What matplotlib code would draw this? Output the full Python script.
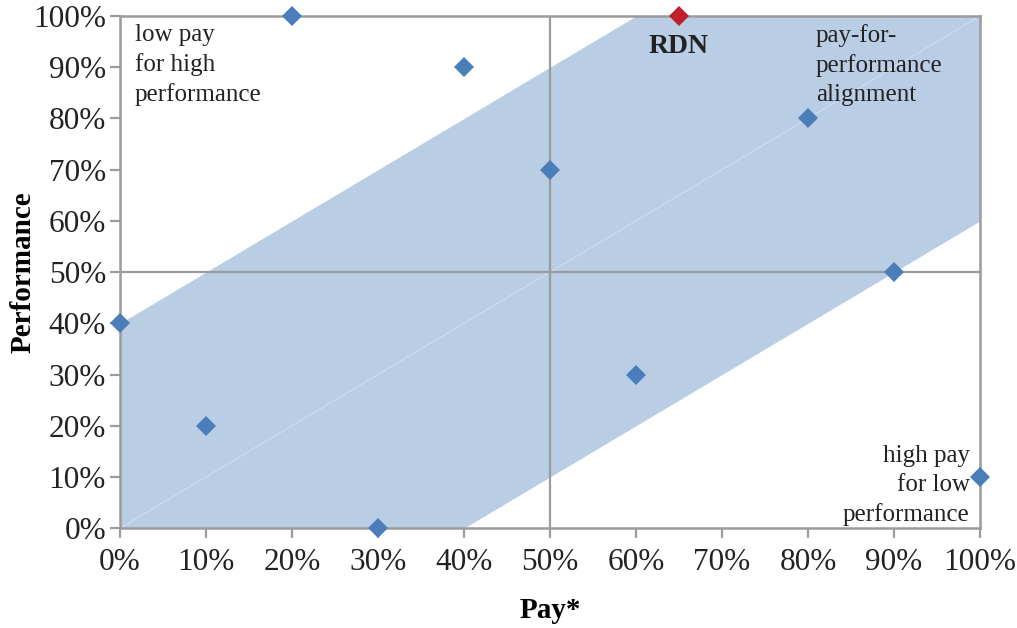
import matplotlib.pyplot as plt
import numpy as np
from matplotlib.ticker import PercentFormatter

pay = [0, 10, 20, 30, 40, 50, 60, 80, 90, 100]
performance = [40, 20, 100, 0, 90, 70, 30, 80, 50, 10]
rdn_pay = [65]
rdn_performance = [100]
band_half_width = 40
ticks = list(range(0, 101, 10))

plt.rcParams['font.family'] = ['Liberation Serif', 'DejaVu Serif']
grey = '#9b9b9b'

fig = plt.figure(figsize=(10.17, 6.28), dpi=100)
ax = fig.add_axes([0.118, 0.159, 0.8456, 0.8155])

# pay-for-performance band
xs = np.linspace(0, 100, 201)
ax.fill_between(xs, np.clip(xs - band_half_width, 0, 100), np.clip(xs + band_half_width, 0, 100),
                color='#b9cde5', lw=0, zorder=1)
ax.plot([0, 100], [0, 100], color='white', lw=0.6, alpha=0.4, zorder=2)

ax.axvline(50, color=grey, lw=1.6, zorder=2)
ax.axhline(50, color=grey, lw=1.6, zorder=2)

ax.plot(pay, performance, 'D', color='#4a7ebb', ms=10.5, mew=0, clip_on=False, zorder=5)
ax.plot(rdn_pay, rdn_performance, 'D', color='#c0202a', ms=10.5, mew=0, clip_on=False, zorder=5)

ax.set_xlim(0, 100)
ax.set_ylim(0, 100)
ax.set_xticks(ticks)
ax.set_yticks(ticks)
ax.xaxis.set_major_formatter(PercentFormatter(decimals=0))
ax.yaxis.set_major_formatter(PercentFormatter(decimals=0))
ax.tick_params(direction='out', length=7, width=1.6, color=grey, labelsize=22.5,
               labelcolor='#222222')
ax.tick_params(axis='x', pad=7)
ax.tick_params(axis='y', pad=3)
for s in ax.spines.values():
    s.set_color(grey)
    s.set_linewidth(1.8)

ax.set_xlabel('Pay*', fontsize=21, fontweight='bold')
ax.set_ylabel('Performance', fontsize=21, fontweight='bold')
ax.xaxis.set_label_coords(0.5, -0.135)
ax.yaxis.set_label_coords(-0.097, 0.5)

txt = dict(fontsize=18, color='#222222', linespacing=1.4)
ax.text(1.7, 98.5, 'low pay\nfor high\nperformance', ha='left', va='top', **txt)
ax.text(80.9, 98.5, 'pay-for-\nperformance\nalignment', ha='left', va='top', **txt)
ax.text(98.8, 0.4, 'high pay\nfor low\nperformance', ha='right', va='bottom', multialignment='right', **txt)
ax.text(65, 94, 'RDN', ha='center', va='center', fontsize=20, fontweight='bold', color='#222222')

fig.savefig('out.png', dpi=100)
